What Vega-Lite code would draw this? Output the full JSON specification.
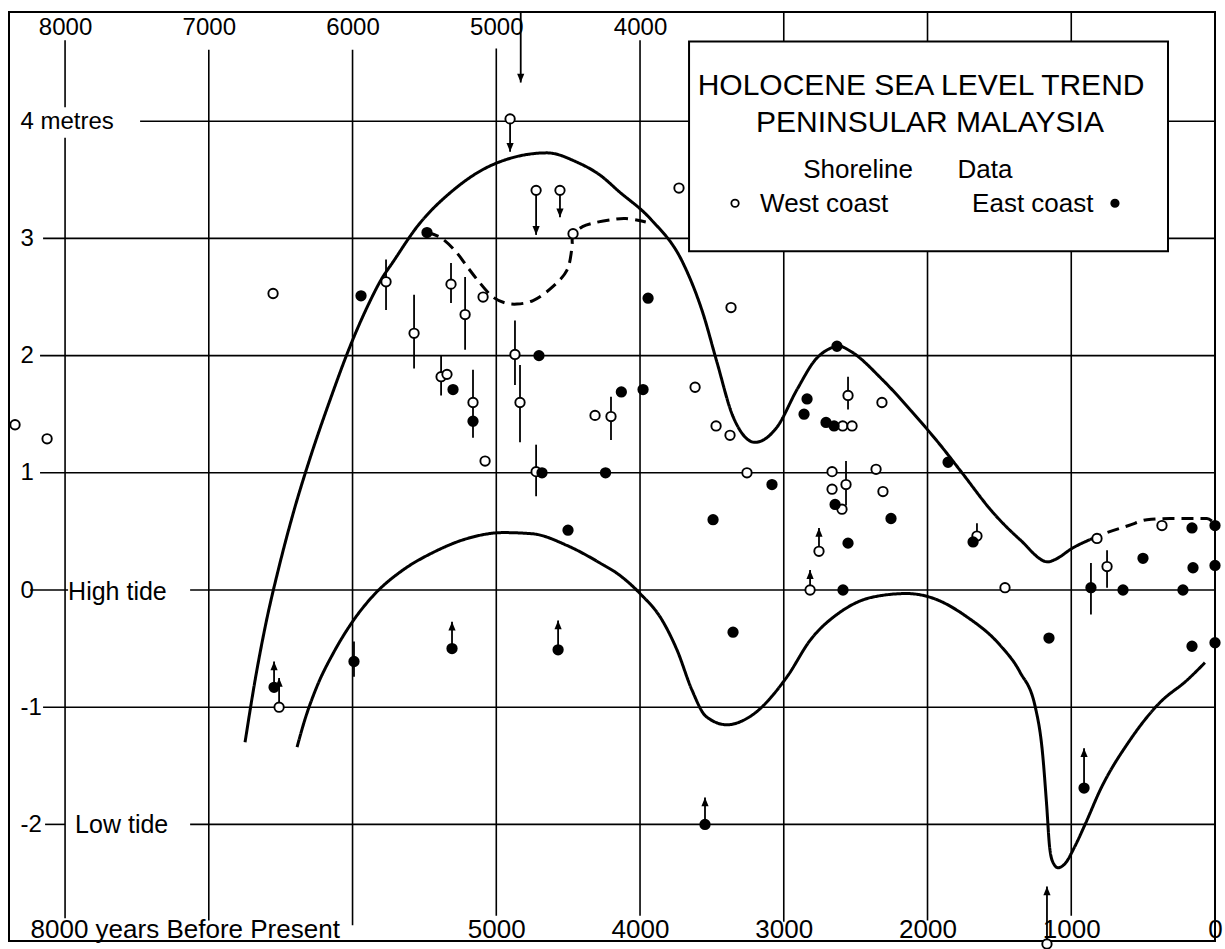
{
  "$schema": "https://vega.github.io/schema/vega-lite/v6.json",
  "width": 1206,
  "height": 929,
  "padding": {"left": 9, "top": 12, "right": 10, "bottom": 8},
  "autosize": {"type": "none"},
  "background": "white",
  "config": {
    "view": {"stroke": "black", "strokeWidth": 2},
    "font": "Liberation Sans",
    "axis": {"domain": false, "ticks": false, "tickSize": 0, "grid": false, "labelColor": "black", "labelFont": "Liberation Sans", "labelPadding": 0, "labelOverlap": false, "labelFlush": false, "labelBound": false, "labelLimit": 0, "zindex": 1}
  },
  "resolve": {"axis": {"x": "independent", "y": "independent"}},
  "datasets": {
    "grid": [
      {"x": 7478, "x2": 0, "y": 4, "y2": 4},
      {"x": 8153, "x2": 0, "y": 3, "y2": 3},
      {"x": 8174, "x2": 0, "y": 2, "y2": 2},
      {"x": 8174, "x2": 0, "y": 1, "y2": 1},
      {"x": 8243, "x2": 7979, "y": 0, "y2": 0},
      {"x": 7130, "x2": 0, "y": 0, "y2": 0},
      {"x": 8153, "x2": 0, "y": -1, "y2": -1},
      {"x": 8139, "x2": 8000, "y": -2, "y2": -2},
      {"x": 7130, "x2": 0, "y": -2, "y2": -2},
      {"x": 8000, "x2": 8000, "y": 4.69, "y2": 4.12},
      {"x": 8000, "x2": 8000, "y": 3.86, "y2": -2.8},
      {"x": 7000, "x2": 7000, "y": 4.61, "y2": -2.82},
      {"x": 6000, "x2": 6000, "y": 4.61, "y2": -2.86},
      {"x": 5000, "x2": 5000, "y": 4.62, "y2": -2.78},
      {"x": 4000, "x2": 4000, "y": 4.69, "y2": -2.78},
      {"x": 3000, "x2": 3000, "y": 4.93, "y2": -2.83},
      {"x": 2000, "x2": 2000, "y": 4.93, "y2": -2.82},
      {"x": 1000, "x2": 1000, "y": 4.93, "y2": -2.78}
    ],
    "curves": [
      {"part": "upper", "i": 1, "year": 6748, "m": -1.3},
      {"part": "upper", "i": 2, "year": 6678, "m": -0.77},
      {"part": "upper", "i": 3, "year": 6602, "m": -0.28},
      {"part": "upper", "i": 4, "year": 6511, "m": 0.2},
      {"part": "upper", "i": 5, "year": 6407, "m": 0.68},
      {"part": "upper", "i": 6, "year": 6289, "m": 1.15},
      {"part": "upper", "i": 7, "year": 6157, "m": 1.62},
      {"part": "upper", "i": 8, "year": 6017, "m": 2.08},
      {"part": "upper", "i": 9, "year": 5892, "m": 2.43},
      {"part": "upper", "i": 10, "year": 5800, "m": 2.65},
      {"part": "upper", "i": 11, "year": 5718, "m": 2.8},
      {"part": "upper", "i": 12, "year": 5551, "m": 3.1},
      {"part": "upper", "i": 13, "year": 5301, "m": 3.41},
      {"part": "upper", "i": 14, "year": 5023, "m": 3.63},
      {"part": "upper", "i": 15, "year": 4647, "m": 3.73},
      {"part": "upper", "i": 16, "year": 4438, "m": 3.65},
      {"part": "upper", "i": 17, "year": 4278, "m": 3.54},
      {"part": "upper", "i": 18, "year": 4146, "m": 3.4},
      {"part": "upper", "i": 19, "year": 3930, "m": 3.17},
      {"part": "upper", "i": 20, "year": 3701, "m": 2.79},
      {"part": "upper", "i": 21, "year": 3562, "m": 2.36},
      {"part": "upper", "i": 22, "year": 3464, "m": 1.94},
      {"part": "upper", "i": 23, "year": 3353, "m": 1.48},
      {"part": "upper", "i": 24, "year": 3200, "m": 1.26},
      {"part": "upper", "i": 25, "year": 3047, "m": 1.39},
      {"part": "upper", "i": 26, "year": 2908, "m": 1.71},
      {"part": "upper", "i": 27, "year": 2769, "m": 1.98},
      {"part": "upper", "i": 28, "year": 2609, "m": 2.08},
      {"part": "upper", "i": 29, "year": 2553, "m": 2.05},
      {"part": "upper", "i": 30, "year": 2310, "m": 1.79},
      {"part": "upper", "i": 31, "year": 2108, "m": 1.52},
      {"part": "upper", "i": 32, "year": 1913, "m": 1.24},
      {"part": "upper", "i": 33, "year": 1760, "m": 1.0},
      {"part": "upper", "i": 34, "year": 1544, "m": 0.66},
      {"part": "upper", "i": 35, "year": 1357, "m": 0.43},
      {"part": "upper", "i": 36, "year": 1162, "m": 0.24},
      {"part": "upper", "i": 37, "year": 1113, "m": 0.26},
      {"part": "upper", "i": 38, "year": 988, "m": 0.36},
      {"part": "upper", "i": 39, "year": 870, "m": 0.43},
      {"part": "upperDash", "i": 1, "year": 870, "m": 0.43},
      {"part": "upperDash", "i": 2, "year": 751, "m": 0.49},
      {"part": "upperDash", "i": 3, "year": 600, "m": 0.55},
      {"part": "upperDash", "i": 4, "year": 473, "m": 0.6},
      {"part": "upperDash", "i": 5, "year": 313, "m": 0.61},
      {"part": "upperDash", "i": 6, "year": 150, "m": 0.61},
      {"part": "upperDash", "i": 7, "year": 56, "m": 0.61},
      {"part": "upperDash", "i": 8, "year": 14, "m": 0.58},
      {"part": "lower", "i": 1, "year": 6386, "m": -1.34},
      {"part": "lower", "i": 2, "year": 6330, "m": -1.1},
      {"part": "lower", "i": 3, "year": 6250, "m": -0.83},
      {"part": "lower", "i": 4, "year": 6130, "m": -0.53},
      {"part": "lower", "i": 5, "year": 6000, "m": -0.27},
      {"part": "lower", "i": 6, "year": 5850, "m": -0.04},
      {"part": "lower", "i": 7, "year": 5650, "m": 0.17},
      {"part": "lower", "i": 8, "year": 5440, "m": 0.32},
      {"part": "lower", "i": 9, "year": 5200, "m": 0.44},
      {"part": "lower", "i": 10, "year": 4950, "m": 0.49},
      {"part": "lower", "i": 11, "year": 4750, "m": 0.48},
      {"part": "lower", "i": 12, "year": 4508, "m": 0.38},
      {"part": "lower", "i": 13, "year": 4278, "m": 0.23},
      {"part": "lower", "i": 14, "year": 4146, "m": 0.13},
      {"part": "lower", "i": 15, "year": 4000, "m": -0.03},
      {"part": "lower", "i": 16, "year": 3850, "m": -0.25},
      {"part": "lower", "i": 17, "year": 3740, "m": -0.52},
      {"part": "lower", "i": 18, "year": 3640, "m": -0.85},
      {"part": "lower", "i": 19, "year": 3540, "m": -1.08},
      {"part": "lower", "i": 20, "year": 3395, "m": -1.15},
      {"part": "lower", "i": 21, "year": 3235, "m": -1.08},
      {"part": "lower", "i": 22, "year": 2977, "m": -0.74},
      {"part": "lower", "i": 23, "year": 2817, "m": -0.43},
      {"part": "lower", "i": 24, "year": 2609, "m": -0.19},
      {"part": "lower", "i": 25, "year": 2379, "m": -0.06},
      {"part": "lower", "i": 26, "year": 2143, "m": -0.03},
      {"part": "lower", "i": 27, "year": 1962, "m": -0.07},
      {"part": "lower", "i": 28, "year": 1725, "m": -0.23},
      {"part": "lower", "i": 29, "year": 1496, "m": -0.47},
      {"part": "lower", "i": 30, "year": 1357, "m": -0.7},
      {"part": "lower", "i": 31, "year": 1250, "m": -1.0},
      {"part": "lower", "i": 32, "year": 1200, "m": -1.39},
      {"part": "lower", "i": 33, "year": 1172, "m": -1.82},
      {"part": "lower", "i": 34, "year": 1150, "m": -2.2},
      {"part": "lower", "i": 35, "year": 1125, "m": -2.33},
      {"part": "lower", "i": 36, "year": 1092, "m": -2.37},
      {"part": "lower", "i": 37, "year": 1040, "m": -2.33},
      {"part": "lower", "i": 38, "year": 980, "m": -2.2},
      {"part": "lower", "i": 39, "year": 900, "m": -1.99},
      {"part": "lower", "i": 40, "year": 800, "m": -1.71},
      {"part": "lower", "i": 41, "year": 591, "m": -1.28},
      {"part": "lower", "i": 42, "year": 383, "m": -0.96},
      {"part": "lower", "i": 43, "year": 195, "m": -0.77},
      {"part": "lower", "i": 44, "year": 70, "m": -0.62}
    ],
    "midCurve": [
      {"i": 1, "year": 5482, "m": 3.05},
      {"i": 2, "year": 5391, "m": 3.01},
      {"i": 3, "year": 5290, "m": 2.9},
      {"i": 4, "year": 5203, "m": 2.76},
      {"i": 5, "year": 5134, "m": 2.65},
      {"i": 6, "year": 5023, "m": 2.5},
      {"i": 7, "year": 4940, "m": 2.45},
      {"i": 8, "year": 4856, "m": 2.44},
      {"i": 9, "year": 4744, "m": 2.47},
      {"i": 10, "year": 4605, "m": 2.59},
      {"i": 11, "year": 4508, "m": 2.73},
      {"i": 12, "year": 4473, "m": 2.93},
      {"i": 13, "year": 4466, "m": 3.04},
      {"i": 14, "year": 4400, "m": 3.1},
      {"i": 15, "year": 4327, "m": 3.13},
      {"i": 16, "year": 4200, "m": 3.16},
      {"i": 17, "year": 4100, "m": 3.17},
      {"i": 18, "year": 3960, "m": 3.14}
    ],
    "bars": [
      {"year": 5767, "lo": 2.39, "hi": 2.82},
      {"year": 5572, "lo": 1.89, "hi": 2.52},
      {"year": 5315, "lo": 2.45, "hi": 2.79},
      {"year": 5217, "lo": 2.05, "hi": 2.67},
      {"year": 5384, "lo": 1.66, "hi": 2.0},
      {"year": 5162, "lo": 1.3, "hi": 1.88},
      {"year": 4870, "lo": 1.75, "hi": 2.3},
      {"year": 4835, "lo": 1.26, "hi": 1.92},
      {"year": 4723, "lo": 0.8, "hi": 1.24},
      {"year": 4202, "lo": 1.28, "hi": 1.65},
      {"year": 2553, "lo": 1.54, "hi": 1.82},
      {"year": 2567, "lo": 0.72, "hi": 1.1},
      {"year": 1656, "lo": 0.46, "hi": 0.57},
      {"year": 751, "lo": 0.02, "hi": 0.34},
      {"year": 863, "lo": -0.21, "hi": 0.23},
      {"year": 5990, "lo": -0.74, "hi": -0.44}
    ],
    "arrows": [
      {"year": 4904, "from": 4.02, "to": 3.74, "dir": "down"},
      {"year": 4723, "from": 3.41, "to": 3.03, "dir": "down"},
      {"year": 4557, "from": 3.41, "to": 3.18, "dir": "down"},
      {"year": 4830, "from": 4.93, "to": 4.33, "dir": "down"},
      {"year": 2755, "from": 0.33, "to": 0.53, "dir": "up"},
      {"year": 2817, "from": 0.0, "to": 0.17, "dir": "up"},
      {"year": 3548, "from": -2.0, "to": -1.77, "dir": "up"},
      {"year": 911, "from": -1.69, "to": -1.35, "dir": "up"},
      {"year": 1169, "from": -3.02, "to": -2.53, "dir": "up"},
      {"year": 6546, "from": -0.83, "to": -0.61, "dir": "up"},
      {"year": 6511, "from": -1.0, "to": -0.75, "dir": "up"},
      {"year": 5308, "from": -0.5, "to": -0.27, "dir": "up"},
      {"year": 4570, "from": -0.51, "to": -0.26, "dir": "up"}
    ],
    "pts": [
      {"year": 8348, "m": 1.41, "coast": "West"},
      {"year": 8125, "m": 1.29, "coast": "West"},
      {"year": 6553, "m": 2.53, "coast": "West"},
      {"year": 5767, "m": 2.63, "coast": "West"},
      {"year": 5572, "m": 2.19, "coast": "West"},
      {"year": 5315, "m": 2.61, "coast": "West"},
      {"year": 5217, "m": 2.35, "coast": "West"},
      {"year": 5092, "m": 2.5, "coast": "West"},
      {"year": 5384, "m": 1.82, "coast": "West"},
      {"year": 5343, "m": 1.84, "coast": "West"},
      {"year": 5162, "m": 1.6, "coast": "West"},
      {"year": 5078, "m": 1.1, "coast": "West"},
      {"year": 4904, "m": 4.02, "coast": "West"},
      {"year": 4723, "m": 3.41, "coast": "West"},
      {"year": 4557, "m": 3.41, "coast": "West"},
      {"year": 4466, "m": 3.04, "coast": "West"},
      {"year": 4870, "m": 2.01, "coast": "West"},
      {"year": 4835, "m": 1.6, "coast": "West"},
      {"year": 4723, "m": 1.01, "coast": "West"},
      {"year": 4313, "m": 1.49, "coast": "West"},
      {"year": 4202, "m": 1.48, "coast": "West"},
      {"year": 3729, "m": 3.43, "coast": "West"},
      {"year": 3367, "m": 2.41, "coast": "West"},
      {"year": 3617, "m": 1.73, "coast": "West"},
      {"year": 3471, "m": 1.4, "coast": "West"},
      {"year": 3374, "m": 1.32, "coast": "West"},
      {"year": 2590, "m": 1.4, "coast": "West"},
      {"year": 2525, "m": 1.4, "coast": "West"},
      {"year": 2553, "m": 1.66, "coast": "West"},
      {"year": 2317, "m": 1.6, "coast": "West"},
      {"year": 3256, "m": 1.0, "coast": "West"},
      {"year": 2664, "m": 1.01, "coast": "West"},
      {"year": 2358, "m": 1.03, "coast": "West"},
      {"year": 2664, "m": 0.86, "coast": "West"},
      {"year": 2567, "m": 0.9, "coast": "West"},
      {"year": 2595, "m": 0.69, "coast": "West"},
      {"year": 2310, "m": 0.84, "coast": "West"},
      {"year": 2755, "m": 0.33, "coast": "West"},
      {"year": 1656, "m": 0.46, "coast": "West"},
      {"year": 2817, "m": 0.0, "coast": "West"},
      {"year": 1461, "m": 0.02, "coast": "West"},
      {"year": 821, "m": 0.44, "coast": "West"},
      {"year": 369, "m": 0.55, "coast": "West"},
      {"year": 751, "m": 0.2, "coast": "West"},
      {"year": 1169, "m": -3.02, "coast": "West"},
      {"year": 6511, "m": -1.0, "coast": "West"},
      {"year": 5941, "m": 2.51, "coast": "East"},
      {"year": 5482, "m": 3.05, "coast": "East"},
      {"year": 5301, "m": 1.71, "coast": "East"},
      {"year": 5162, "m": 1.44, "coast": "East"},
      {"year": 4703, "m": 2.0, "coast": "East"},
      {"year": 4682, "m": 1.0, "coast": "East"},
      {"year": 4240, "m": 1.0, "coast": "East"},
      {"year": 4130, "m": 1.69, "coast": "East"},
      {"year": 3944, "m": 2.49, "coast": "East"},
      {"year": 3979, "m": 1.71, "coast": "East"},
      {"year": 2630, "m": 2.08, "coast": "East"},
      {"year": 2838, "m": 1.63, "coast": "East"},
      {"year": 2859, "m": 1.5, "coast": "East"},
      {"year": 2706, "m": 1.43, "coast": "East"},
      {"year": 2650, "m": 1.4, "coast": "East"},
      {"year": 1857, "m": 1.09, "coast": "East"},
      {"year": 3082, "m": 0.9, "coast": "East"},
      {"year": 2643, "m": 0.73, "coast": "East"},
      {"year": 3492, "m": 0.6, "coast": "East"},
      {"year": 2254, "m": 0.61, "coast": "East"},
      {"year": 2553, "m": 0.4, "coast": "East"},
      {"year": 1683, "m": 0.41, "coast": "East"},
      {"year": 2588, "m": 0.0, "coast": "East"},
      {"year": 3353, "m": -0.36, "coast": "East"},
      {"year": 3548, "m": -2.0, "coast": "East"},
      {"year": 160, "m": 0.53, "coast": "East"},
      {"year": 0, "m": 0.55, "coast": "East"},
      {"year": 501, "m": 0.27, "coast": "East"},
      {"year": 153, "m": 0.19, "coast": "East"},
      {"year": 0, "m": 0.21, "coast": "East"},
      {"year": 863, "m": 0.02, "coast": "East"},
      {"year": 640, "m": 0.0, "coast": "East"},
      {"year": 223, "m": 0.0, "coast": "East"},
      {"year": 1155, "m": -0.41, "coast": "East"},
      {"year": 160, "m": -0.48, "coast": "East"},
      {"year": 0, "m": -0.45, "coast": "East"},
      {"year": 911, "m": -1.69, "coast": "East"},
      {"year": 6546, "m": -0.83, "coast": "East"},
      {"year": 5990, "m": -0.61, "coast": "East"},
      {"year": 5308, "m": -0.5, "coast": "East"},
      {"year": 4570, "m": -0.51, "coast": "East"},
      {"year": 4501, "m": 0.51, "coast": "East"}
    ],
    "box": [{"x": 3659, "x2": 327, "y": 4.68, "y2": 2.89}],
    "titleText": [
      {"year": 2045, "m": 4.224, "text": "HOLOCENE SEA LEVEL TREND"},
      {"year": 1983, "m": 3.908, "text": "PENINSULAR   MALAYSIA"}
    ],
    "legendCenter": [
      {"year": 2483, "m": 3.515, "text": "Shoreline"},
      {"year": 1600, "m": 3.515, "text": "Data"}
    ],
    "legendLeft": [
      {"year": 3165, "m": 3.225, "text": "West coast"},
      {"year": 1690, "m": 3.225, "text": "East coast"}
    ],
    "legendSymbols": [
      {"year": 3339, "m": 3.3, "coast": "West"},
      {"year": 696, "m": 3.3, "coast": "East"}
    ],
    "tideText": [
      {"year": 7979, "m": -0.085, "text": "High tide"},
      {"year": 7930, "m": -2.073, "text": "Low tide"}
    ]
  },
  "layer": [
    {
      "data": {"name": "grid"},
      "mark": {"type": "rule", "color": "black", "strokeWidth": 1.6},
      "encoding": {
        "x": {"field": "x", "type": "quantitative", "scale": {"domain": [8390, 0], "nice": false, "zero": false},
              "axis": {"orient": "top", "values": [8000, 7000, 6000, 5000, 4000], "format": "d", "offset": -15, "labelBaseline": "middle", "labelFontSize": 24, "title": null}},
        "x2": {"field": "x2"},
        "y": {"field": "y", "type": "quantitative", "scale": {"domain": [-2.995, 4.932], "nice": false, "zero": false},
              "axis": {"orient": "left", "values": [4, 3, 2, 1, 0, -1, -2], "offset": -11, "labelAlign": "left", "labelBaseline": "middle", "labelFontSize": 24, "title": null,
                       "labelExpr": "datum.value == 4 ? '4 metres' : (datum.value < 0 ? '-' + abs(datum.value) : '' + datum.value)"}},
        "y2": {"field": "y2"}
      }
    },
    {
      "data": {"name": "curves"},
      "mark": {"type": "line", "color": "black", "strokeWidth": 3, "interpolate": "monotone"},
      "encoding": {
        "x": {"field": "year", "type": "quantitative", "scale": {"domain": [8390, 0], "nice": false, "zero": false}, "axis": null},
        "y": {"field": "m", "type": "quantitative", "scale": {"domain": [-2.995, 4.932], "nice": false, "zero": false}, "axis": null},
        "detail": {"field": "part"},
        "order": {"field": "i", "type": "quantitative"},
        "strokeDash": {"field": "part", "type": "nominal", "legend": null,
                       "scale": {"domain": ["upper", "upperDash", "lower"], "range": [[1, 0], [12, 7], [1, 0]]}}
      }
    },
    {
      "data": {"name": "midCurve"},
      "mark": {"type": "line", "color": "black", "strokeWidth": 3, "interpolate": "catmull-rom", "strokeDash": [12, 7]},
      "encoding": {
        "x": {"field": "year", "type": "quantitative", "scale": {"domain": [8390, 0], "nice": false, "zero": false}, "axis": null},
        "y": {"field": "m", "type": "quantitative", "scale": {"domain": [-2.995, 4.932], "nice": false, "zero": false}, "axis": null},
        "order": {"field": "i", "type": "quantitative"}
      }
    },
    {
      "data": {"name": "bars"},
      "mark": {"type": "rule", "color": "black", "strokeWidth": 1.8},
      "encoding": {
        "x": {"field": "year", "type": "quantitative", "scale": {"domain": [8390, 0], "nice": false, "zero": false}, "axis": null},
        "y": {"field": "lo", "type": "quantitative", "scale": {"domain": [-2.995, 4.932], "nice": false, "zero": false}, "axis": null},
        "y2": {"field": "hi"}
      }
    },
    {
      "data": {"name": "arrows"},
      "mark": {"type": "rule", "color": "black", "strokeWidth": 1.8},
      "encoding": {
        "x": {"field": "year", "type": "quantitative", "scale": {"domain": [8390, 0], "nice": false, "zero": false}, "axis": null},
        "y": {"field": "from", "type": "quantitative", "scale": {"domain": [-2.995, 4.932], "nice": false, "zero": false}, "axis": null},
        "y2": {"field": "to"}
      }
    },
    {
      "data": {"name": "arrows"},
      "mark": {"type": "point", "filled": true, "color": "black", "opacity": 1, "size": 64, "strokeWidth": 0},
      "encoding": {
        "x": {"field": "year", "type": "quantitative", "scale": {"domain": [8390, 0], "nice": false, "zero": false}, "axis": null},
        "y": {"field": "to", "type": "quantitative", "scale": {"domain": [-2.995, 4.932], "nice": false, "zero": false}, "axis": null},
        "shape": {"field": "dir", "type": "nominal", "legend": null,
                  "scale": {"domain": ["up", "down"], "range": ["M0,0L-0.9,2.2L0.9,2.2Z", "M0,0L-0.9,-2.2L0.9,-2.2Z"]}}
      }
    },
    {
      "data": {"name": "pts"},
      "mark": {"type": "point", "shape": "circle", "size": 88, "stroke": "black", "strokeWidth": 1.9, "opacity": 1, "fillOpacity": 1},
      "encoding": {
        "x": {"field": "year", "type": "quantitative", "scale": {"domain": [8390, 0], "nice": false, "zero": false},
              "axis": {"orient": "bottom", "values": [8000, 5000, 4000, 3000, 2000, 1000, 0], "format": "d", "offset": -12, "labelBaseline": "middle", "labelFontSize": 26, "title": null,
                       "labelExpr": "datum.value == 8000 ? '8000 years Before Present' : datum.label",
                       "labelAlign": {"condition": {"test": "datum.value == 8000", "value": "left"}, "value": "center"},
                       "labelOffset": {"condition": {"test": "datum.value == 8000", "value": -35}, "value": 0}}},
        "y": {"field": "m", "type": "quantitative", "scale": {"domain": [-2.995, 4.932], "nice": false, "zero": false}, "axis": null},
        "fill": {"field": "coast", "type": "nominal", "legend": null, "scale": {"domain": ["West", "East"], "range": ["white", "black"]}}
      }
    },
    {
      "data": {"name": "box"},
      "mark": {"type": "rect", "fill": "white", "stroke": "black", "strokeWidth": 2},
      "encoding": {
        "x": {"field": "x", "type": "quantitative", "scale": {"domain": [8390, 0], "nice": false, "zero": false}, "axis": null},
        "x2": {"field": "x2"},
        "y": {"field": "y", "type": "quantitative", "scale": {"domain": [-2.995, 4.932], "nice": false, "zero": false}, "axis": null},
        "y2": {"field": "y2"}
      }
    },
    {
      "data": {"name": "titleText"},
      "mark": {"type": "text", "fontSize": 30, "align": "center", "baseline": "alphabetic", "color": "black", "font": "Liberation Sans"},
      "encoding": {
        "x": {"field": "year", "type": "quantitative", "scale": {"domain": [8390, 0], "nice": false, "zero": false}, "axis": null},
        "y": {"field": "m", "type": "quantitative", "scale": {"domain": [-2.995, 4.932], "nice": false, "zero": false}, "axis": null},
        "text": {"field": "text"}
      }
    },
    {
      "data": {"name": "legendCenter"},
      "mark": {"type": "text", "fontSize": 26, "align": "center", "baseline": "alphabetic", "color": "black", "font": "Liberation Sans"},
      "encoding": {
        "x": {"field": "year", "type": "quantitative", "scale": {"domain": [8390, 0], "nice": false, "zero": false}, "axis": null},
        "y": {"field": "m", "type": "quantitative", "scale": {"domain": [-2.995, 4.932], "nice": false, "zero": false}, "axis": null},
        "text": {"field": "text"}
      }
    },
    {
      "data": {"name": "legendLeft"},
      "mark": {"type": "text", "fontSize": 26, "align": "left", "baseline": "alphabetic", "color": "black", "font": "Liberation Sans"},
      "encoding": {
        "x": {"field": "year", "type": "quantitative", "scale": {"domain": [8390, 0], "nice": false, "zero": false}, "axis": null},
        "y": {"field": "m", "type": "quantitative", "scale": {"domain": [-2.995, 4.932], "nice": false, "zero": false}, "axis": null},
        "text": {"field": "text"}
      }
    },
    {
      "data": {"name": "legendSymbols"},
      "mark": {"type": "point", "shape": "circle", "size": 55, "stroke": "black", "strokeWidth": 1.8, "opacity": 1, "fillOpacity": 1},
      "encoding": {
        "x": {"field": "year", "type": "quantitative", "scale": {"domain": [8390, 0], "nice": false, "zero": false}, "axis": null},
        "y": {"field": "m", "type": "quantitative", "scale": {"domain": [-2.995, 4.932], "nice": false, "zero": false}, "axis": null},
        "fill": {"field": "coast", "type": "nominal", "legend": null, "scale": {"domain": ["West", "East"], "range": ["white", "black"]}}
      }
    },
    {
      "data": {"name": "tideText"},
      "mark": {"type": "text", "fontSize": 25, "align": "left", "baseline": "alphabetic", "color": "black", "font": "Liberation Sans"},
      "encoding": {
        "x": {"field": "year", "type": "quantitative", "scale": {"domain": [8390, 0], "nice": false, "zero": false}, "axis": null},
        "y": {"field": "m", "type": "quantitative", "scale": {"domain": [-2.995, 4.932], "nice": false, "zero": false}, "axis": null},
        "text": {"field": "text"}
      }
    }
  ]
}
